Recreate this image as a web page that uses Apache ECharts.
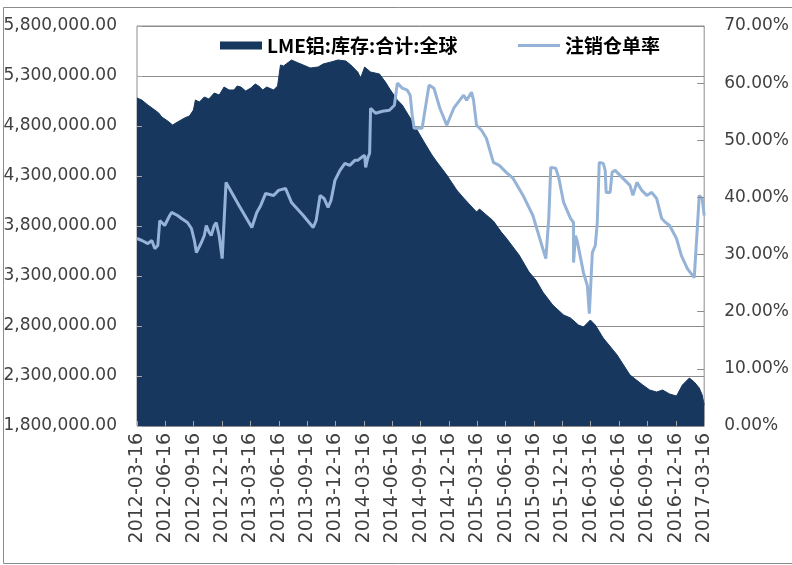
<!DOCTYPE html>
<html>
<head>
<meta charset="utf-8">
<title>LME铝库存与注销仓单率</title>
<script src="https://cdn.jsdelivr.net/npm/echarts@6/dist/echarts.min.js"></script>
<style>
  html, body { margin: 0; padding: 0; background: #fff; }
  #main { width: 792px; height: 565px; }
</style>
</head>
<body>
<div id="main"></div>
<script>
// x 轴刻度（每季度一个）
var tickLabels = ['2012-03-16', '2012-06-16', '2012-09-16', '2012-12-16', '2013-03-16', '2013-06-16',
  '2013-09-16', '2013-12-16', '2014-03-16', '2014-06-16', '2014-09-16', '2014-12-16', '2015-03-16',
  '2015-06-16', '2015-09-16', '2015-12-16', '2016-03-16', '2016-06-16', '2016-09-16', '2016-12-16', '2017-03-16'];

// LME铝:库存:合计:全球  （月份 = 距 2012-03-16 的月数）
var stockMonth = [0, 0.5, 1.15, 1.88, 2.3, 2.62, 3.25, 3.77, 4.29, 5.03, 5.55, 5.97,
  6.18, 6.6, 7.12, 7.6, 8.17, 8.7, 9.21, 9.74, 10.26, 10.6, 10.99, 11.5, 12.04, 12.5, 12.88, 13.3, 13.72,
  14.45, 14.87, 15.18, 15.5, 16.34, 17.07, 17.59, 18.32, 19.16, 19.69,
  20.52, 21.26, 22.09, 22.62, 23.35, 23.66, 24.08, 24.71, 25.65, 26.28,
  26.81, 27.54, 28.06, 28.9, 29.63, 30.37, 31.2, 31.73, 32.77, 33.82,
  34.55, 35.92, 36.23, 36.96, 37.7, 38.53, 39.06, 40.42, 41.47, 42.2,
  42.93, 43.98, 45.13, 45.86, 46.7, 47.23, 47.96, 48.48, 49.32, 50.79,
  52.15, 53.51, 54.24, 54.97, 55.6, 56.34, 57.07, 57.7, 58.43, 58.95,
  59.48, 59.79, 60];
var stockTon = [5080000, 5060000, 5010000, 4960000, 4930000, 4890000, 4850000, 4810000, 4840000, 4880000, 4900000, 4960000,
  5060000, 5040000, 5090000, 5070000, 5130000, 5110000, 5190000, 5160000, 5160000, 5200000, 5190000, 5150000, 5180000, 5220000, 5200000, 5160000, 5190000,
  5160000, 5200000, 5410000, 5400000, 5460000, 5430000, 5410000, 5380000, 5390000, 5420000,
  5440000, 5460000, 5450000, 5410000, 5340000, 5280000, 5390000, 5340000, 5320000, 5240000,
  5160000, 5060000, 5010000, 4880000, 4760000, 4640000, 4510000, 4440000, 4310000, 4160000,
  4080000, 3940000, 3970000, 3910000, 3850000, 3740000, 3680000, 3510000, 3340000, 3260000,
  3140000, 3010000, 2910000, 2880000, 2810000, 2790000, 2860000, 2810000, 2680000, 2510000,
  2310000, 2210000, 2160000, 2140000, 2160000, 2120000, 2100000, 2210000, 2280000, 2240000,
  2180000, 2110000, 2010000];

// 注销仓单率 (%)
var rateMonth = [0, 0.52, 1.15, 1.57, 1.88, 2.2, 2.41, 2.93, 3.46, 3.66,
  4.29, 4.71, 5.34, 5.76, 6.07, 6.28, 6.81, 7.12, 7.33, 7.64,
  7.85, 8.17, 8.38, 8.69, 9.01, 9.42, 10.79, 12.15, 12.67, 13.09,
  13.61, 14.45, 14.97, 15.71, 16.34, 17.59, 18.64, 18.95, 19.37, 19.79,
  20.21, 20.52, 20.94, 21.47, 21.99, 22.51, 23.04, 23.35, 23.77, 24.08,
  24.19, 24.4, 24.61, 24.71, 25.24, 25.97, 26.7, 27.23, 27.54, 28.06,
  28.59, 28.9, 29.11, 29.32, 30.16, 30.89, 31.41, 32.04, 32.77, 33.51,
  34.14, 34.55, 34.87, 35.39, 35.6, 35.92, 36.44, 36.96, 37.7, 38.32,
  39.06, 39.79, 40.84, 41.88, 42.51, 43.25, 43.56, 43.77, 44.29, 44.61,
  45.13, 45.86, 46.18, 46.18, 46.39, 46.6, 47.23, 47.64, 47.85, 48.17,
  48.48, 48.69, 48.9, 49.32, 49.53, 49.63, 50.05, 50.26, 50.58, 51.41,
  52.15, 52.46, 52.88, 53.4, 53.93, 54.45, 54.97, 55.5, 55.92, 56.34,
  57.07, 57.59, 58.22, 58.95, 59.27, 59.48, 59.79, 60];
var ratePct = [32.81, 32.46, 31.93, 32.46, 31.05, 31.58, 35.96, 35.09, 36.84, 37.37,
  36.84, 36.32, 35.61, 34.56, 32.46, 30.35, 32.11, 33.33, 35.09, 33.86,
  33.33, 35.09, 35.61, 33.33, 29.3, 42.63, 38.6, 34.74, 37.37, 38.6,
  40.7, 40.35, 41.23, 41.58, 39.12, 36.84, 34.74, 35.96, 40.35, 39.82,
  38.25, 39.47, 42.98, 44.74, 45.96, 45.61, 46.49, 46.49, 47.02, 47.37,
  45.26, 46.84, 47.72, 55.61, 54.74, 55.09, 55.26, 56.14, 60.0, 59.12,
  58.77, 57.89, 54.39, 52.11, 52.11, 59.65, 59.12, 55.61, 52.63, 55.61,
  57.02, 57.89, 57.02, 58.42, 57.02, 52.63, 51.75, 50.35, 46.14, 45.61,
  44.39, 43.33, 40.35, 36.84, 33.33, 29.3, 36.32, 45.26, 45.09, 43.51,
  39.12, 36.32, 35.61, 28.6, 33.33, 32.11, 26.84, 24.56, 19.65, 30.35,
  31.58, 35.61, 46.14, 45.96, 44.74, 40.88, 40.88, 44.39, 44.74, 43.33,
  42.11, 40.35, 42.63, 41.23, 40.35, 40.88, 39.82, 36.32, 35.61, 35.09,
  32.81, 29.82, 27.54, 25.96, 34.56, 40.35, 39.82, 36.84];

function pairs(xs, ys) {
  var res = [];
  for (var i = 0; i < xs.length; i++) {
    res.push([xs[i], ys[i]]);
  }
  return res;
}

function fmtTon(v) {
  return Math.round(v).toString().replace(/\B(?=(\d{3})+(?!\d))/g, ',') + '.00';
}

var labelFont = { fontFamily: 'DejaVu Sans', fontSize: 17, color: '#404040' };
var legendFont = { fontFamily: 'Noto Sans CJK SC', fontSize: 19, fontWeight: 'bold', color: '#000' };

var myChart = echarts.init(document.getElementById('main'));
var option = {
  animation: false,
  backgroundColor: '#fff',
  graphic: [{
    type: 'rect',
    shape: { x: 3.5, y: 7.5, width: 800, height: 556 },
    style: { fill: 'none', stroke: '#8c8c8c', lineWidth: 1 },
    silent: true
  }],
  legend: [{
    left: 220, top: 36, padding: 0,
    itemWidth: 42, itemHeight: 8,
    icon: 'rect',
    data: ['LME铝:库存:合计:全球'],
    textStyle: legendFont
  }, {
    left: 518, top: 36, padding: 0,
    itemWidth: 42, itemHeight: 3,
    icon: 'rect',
    data: ['注销仓单率'],
    textStyle: legendFont
  }],
  grid: {
    left: 137, right: 82, top: 26, bottom: 139,
    show: true, borderColor: '#8c8c8c', borderWidth: 1
  },
  xAxis: [{
    type: 'value', min: 0, max: 60, interval: 3, z: 10,
    axisLine: { show: false },
    axisTick: { show: true, inside: true, length: 5, lineStyle: { color: '#a6a6a6' } },
    splitLine: { show: false },
    axisLabel: {
      rotate: 90, margin: 7,
      fontFamily: 'DejaVu Sans', fontSize: 19, color: '#404040',
      formatter: function (v) { return tickLabels[Math.round(v / 3)]; }
    }
  }],
  yAxis: [{
    type: 'value', min: 1800000, max: 5800000, interval: 500000,
    axisLine: { show: false },
    axisTick: { show: false },
    splitLine: { show: true, lineStyle: { color: '#8c8c8c', width: 1 } },
    axisLabel: Object.assign({ margin: 20, formatter: fmtTon }, labelFont)
  }, {
    type: 'value', min: 0, max: 70, interval: 10, position: 'right', z: 10,
    axisLine: { show: false },
    axisTick: { show: true, inside: true, length: 7, lineStyle: { color: '#8c8c8c' } },
    splitLine: { show: false },
    axisLabel: Object.assign({ margin: 20, formatter: function (v) { return v.toFixed(2) + '%'; } }, labelFont)
  }, {
    // 左轴内侧刻度，画在面积图上方
    type: 'value', min: 1800000, max: 5800000, interval: 500000, position: 'left', z: 10,
    axisLine: { show: false },
    axisTick: { show: true, inside: true, length: 5, lineStyle: { color: '#a6a6a6' } },
    splitLine: { show: false },
    axisLabel: { show: false }
  }],
  series: [{
    name: 'LME铝:库存:合计:全球',
    type: 'line',
    yAxisIndex: 0,
    symbol: 'none',
    data: pairs(stockMonth, stockTon),
    itemStyle: { color: '#17375E' },
    lineStyle: { width: 1, color: '#17375E' },
    areaStyle: { color: '#17375E', opacity: 1, origin: 'start' },
    z: 2
  }, {
    name: '注销仓单率',
    type: 'line',
    yAxisIndex: 1,
    symbol: 'none',
    data: pairs(rateMonth, ratePct),
    itemStyle: { color: '#95B3D7' },
    lineStyle: { width: 3, color: '#95B3D7' },
    z: 3
  }]
};
myChart.setOption(option);
</script>
</body>
</html>
